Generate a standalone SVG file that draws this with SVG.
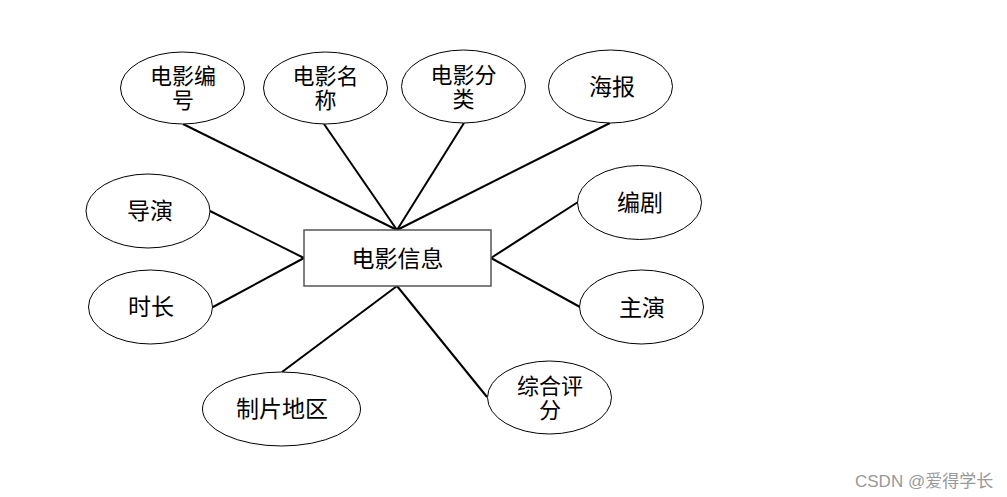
<svg xmlns="http://www.w3.org/2000/svg" width="1007" height="497" viewBox="0 0 1007 497">
<style>
.e{fill:#fff;stroke:#000;stroke-width:1}
.r{fill:#fff;stroke:#555;stroke-width:1.5}
.t{font-family:"Liberation Sans","Noto Sans CJK SC",sans-serif;font-size:23px;fill:#000;text-anchor:middle}
.t2{font-size:22px}
.c line{stroke:#000;stroke-width:2}
.w{font-family:"Liberation Sans","Noto Sans CJK SC",sans-serif;font-size:17px;fill:#999}
</style>
<rect width="1007" height="497" fill="#fff"/>
<g class="c" id="connectors">
<line x1="183" y1="124" x2="397" y2="230"/>
<line x1="324" y1="124" x2="397" y2="230"/>
<line x1="464" y1="123" x2="397" y2="230"/>
<line x1="610" y1="123" x2="397" y2="230"/>
<line x1="210" y1="211" x2="304" y2="258"/>
<line x1="213" y1="307" x2="304" y2="258"/>
<line x1="578" y1="202" x2="491" y2="258"/>
<line x1="580" y1="307" x2="491" y2="258"/>
<line x1="282" y1="372" x2="397" y2="286"/>
<line x1="487" y1="397" x2="397" y2="286"/>
</g>
<g id="main"><rect class="r" x="304" y="230" width="187" height="56"/><text class="t" x="397.5" y="267">电影信息</text></g>
<g id="n1"><ellipse class="e" cx="182.5" cy="88" rx="62" ry="36"/><text class="t t2" x="183" y="84">电影编</text><text class="t t2" x="183" y="108">号</text></g>
<g id="n2"><ellipse class="e" cx="325.5" cy="88" rx="62" ry="36"/><text class="t t2" x="325.5" y="84">电影名</text><text class="t t2" x="325.5" y="108">称</text></g>
<g id="n3"><ellipse class="e" cx="463.5" cy="86.5" rx="62" ry="36.5"/><text class="t t2" x="463.5" y="83">电影分</text><text class="t t2" x="463.5" y="107">类</text></g>
<g id="n4"><ellipse class="e" cx="610.5" cy="86.5" rx="62" ry="36.5"/><text class="t" x="612" y="95">海报</text></g>
<g id="n5"><ellipse class="e" cx="148" cy="211" rx="62" ry="37"/><text class="t" x="150" y="219">导演</text></g>
<g id="n6"><ellipse class="e" cx="150.5" cy="307" rx="62" ry="37"/><text class="t" x="151" y="315">时长</text></g>
<g id="n7"><ellipse class="e" cx="639.5" cy="202.5" rx="62" ry="37"/><text class="t" x="640" y="211">编剧</text></g>
<g id="n8"><ellipse class="e" cx="641.5" cy="307" rx="62" ry="37"/><text class="t" x="642" y="316">主演</text></g>
<g id="n9"><ellipse class="e" cx="281.5" cy="409" rx="79" ry="37"/><text class="t" x="282" y="417">制片地区</text></g>
<g id="n10"><ellipse class="e" cx="549.5" cy="397.5" rx="62" ry="36.5"/><text class="t t2" x="550" y="394">综合评</text><text class="t t2" x="550" y="418">分</text></g>
<text class="w" x="855" y="487">CSDN @爱得学长</text>
</svg>
